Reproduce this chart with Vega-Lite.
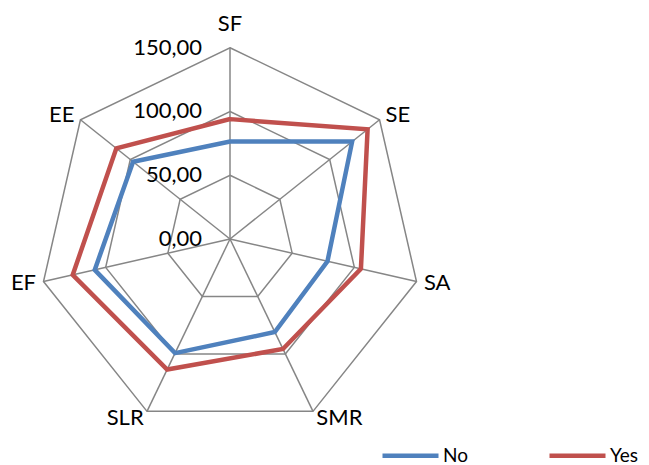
{
  "$schema": "https://vega.github.io/schema/vega-lite/v6.json",
  "width": 649,
  "height": 465,
  "padding": 0,
  "autosize": {"type": "none"},
  "background": "white",
  "config": {
    "view": {"stroke": null},
    "font": "Lato",
    "text": {"font": "Lato", "fontSize": 22, "color": "#000000"}
  },
  "datasets": {
    "axes": [
      {"axis": "SF", "idx": 0},
      {"axis": "SE", "idx": 1},
      {"axis": "SA", "idx": 2},
      {"axis": "SMR", "idx": 3},
      {"axis": "SLR", "idx": 4},
      {"axis": "EF", "idx": 5},
      {"axis": "EE", "idx": 6}
    ],
    "levels": [
      {"level": 0, "label": "0,00"},
      {"level": 50, "label": "50,00"},
      {"level": 100, "label": "100,00"},
      {"level": 150, "label": "150,00"}
    ],
    "scores": [
      {"axis": "SF", "idx": 0, "group": "No", "value": 76.4},
      {"axis": "SE", "idx": 1, "group": "No", "value": 122.5},
      {"axis": "SA", "idx": 2, "group": "No", "value": 78.4},
      {"axis": "SMR", "idx": 3, "group": "No", "value": 81.0},
      {"axis": "SLR", "idx": 4, "group": "No", "value": 99.3},
      {"axis": "EF", "idx": 5, "group": "No", "value": 108.8},
      {"axis": "EE", "idx": 6, "group": "No", "value": 97.2},
      {"axis": "SF", "idx": 0, "group": "Yes", "value": 94.0},
      {"axis": "SE", "idx": 1, "group": "Yes", "value": 138.0},
      {"axis": "SA", "idx": 2, "group": "Yes", "value": 105.3},
      {"axis": "SMR", "idx": 3, "group": "Yes", "value": 95.7},
      {"axis": "SLR", "idx": 4, "group": "Yes", "value": 113.6},
      {"axis": "EF", "idx": 5, "group": "Yes", "value": 126.5},
      {"axis": "EE", "idx": 6, "group": "Yes", "value": 114.0}
    ]
  },
  "encoding": {
    "x": {"type": "quantitative", "scale": {"domain": [-180.35, 328.55], "nice": false, "zero": false}, "axis": null},
    "y": {"type": "quantitative", "scale": {"domain": [-177.21, 187.41], "nice": false, "zero": false}, "axis": null}
  },
  "layer": [
    {
      "data": {"name": "axes"},
      "transform": [
        {"calculate": "[50, 100, 150]", "as": "ring"},
        {"flatten": ["ring"]},
        {"calculate": "datum.idx * 2 * PI / 7", "as": "angle"},
        {"calculate": "datum.ring * sin(datum.angle)", "as": "gx"},
        {"calculate": "datum.ring * cos(datum.angle)", "as": "gy"}
      ],
      "mark": {"type": "line", "interpolate": "linear-closed", "stroke": "#868686", "strokeWidth": 1.5},
      "encoding": {
        "x": {"field": "gx", "type": "quantitative"},
        "y": {"field": "gy", "type": "quantitative"},
        "detail": {"field": "ring"},
        "order": {"field": "idx"}
      }
    },
    {
      "data": {"name": "axes"},
      "transform": [
        {"calculate": "datum.idx * 2 * PI / 7", "as": "angle"},
        {"calculate": "150 * sin(datum.angle)", "as": "sx"},
        {"calculate": "150 * cos(datum.angle)", "as": "sy"}
      ],
      "mark": {"type": "rule", "stroke": "#868686", "strokeWidth": 1.5},
      "encoding": {
        "x": {"field": "sx", "type": "quantitative"},
        "y": {"field": "sy", "type": "quantitative"},
        "x2": {"datum": 0},
        "y2": {"datum": 0}
      }
    },
    {
      "data": {"name": "scores"},
      "transform": [
        {"calculate": "datum.idx * 2 * PI / 7", "as": "angle"},
        {"calculate": "datum.value * sin(datum.angle)", "as": "px"},
        {"calculate": "datum.value * cos(datum.angle)", "as": "py"}
      ],
      "mark": {"type": "line", "interpolate": "linear-closed", "strokeWidth": 4.5, "strokeJoin": "miter"},
      "encoding": {
        "x": {"field": "px", "type": "quantitative"},
        "y": {"field": "py", "type": "quantitative"},
        "order": {"field": "idx"},
        "color": {
          "field": "group",
          "type": "nominal",
          "scale": {"domain": ["No", "Yes"], "range": ["#4F81BD", "#C0504D"]},
          "legend": {
            "title": null,
            "orient": "none",
            "legendX": 380,
            "legendY": 425,
            "direction": "horizontal",
            "padding": 0,
            "symbolType": "stroke",
            "symbolSize": 3136,
            "symbolStrokeWidth": 4.5,
            "labelFont": "Lato",
            "labelFontSize": 19,
            "labelColor": "#000000",
            "labelOffset": 2,
            "columnPadding": 72
          }
        }
      }
    },
    {
      "data": {"name": "levels"},
      "mark": {"type": "text", "align": "right", "baseline": "middle", "dx": -28},
      "encoding": {
        "x": {"datum": 0},
        "y": {"field": "level", "type": "quantitative"},
        "text": {"field": "label"}
      }
    },
    {
      "data": {"name": "axes"},
      "transform": [
        {"filter": "datum.idx == 0"},
        {"calculate": "datum.idx * 2 * PI / 7", "as": "angle"},
        {"calculate": "150 * sin(datum.angle)", "as": "lx"},
        {"calculate": "150 * cos(datum.angle)", "as": "ly"}
      ],
      "mark": {"type": "text", "align": "center", "baseline": "alphabetic", "dy": -17},
      "encoding": {
        "x": {"field": "lx", "type": "quantitative"},
        "y": {"field": "ly", "type": "quantitative"},
        "text": {"field": "axis"}
      }
    },
    {
      "data": {"name": "axes"},
      "transform": [
        {"filter": "datum.idx >= 1 && datum.idx <= 3"},
        {"calculate": "datum.idx * 2 * PI / 7", "as": "angle"},
        {"calculate": "156 * sin(datum.angle)", "as": "lx"},
        {"calculate": "156 * cos(datum.angle)", "as": "ly"}
      ],
      "mark": {"type": "text", "align": "left", "baseline": "middle"},
      "encoding": {
        "x": {"field": "lx", "type": "quantitative"},
        "y": {"field": "ly", "type": "quantitative"},
        "text": {"field": "axis"}
      }
    },
    {
      "data": {"name": "axes"},
      "transform": [
        {"filter": "datum.idx >= 4"},
        {"calculate": "datum.idx * 2 * PI / 7", "as": "angle"},
        {"calculate": "156 * sin(datum.angle)", "as": "lx"},
        {"calculate": "156 * cos(datum.angle)", "as": "ly"}
      ],
      "mark": {"type": "text", "align": "right", "baseline": "middle"},
      "encoding": {
        "x": {"field": "lx", "type": "quantitative"},
        "y": {"field": "ly", "type": "quantitative"},
        "text": {"field": "axis"}
      }
    }
  ]
}
